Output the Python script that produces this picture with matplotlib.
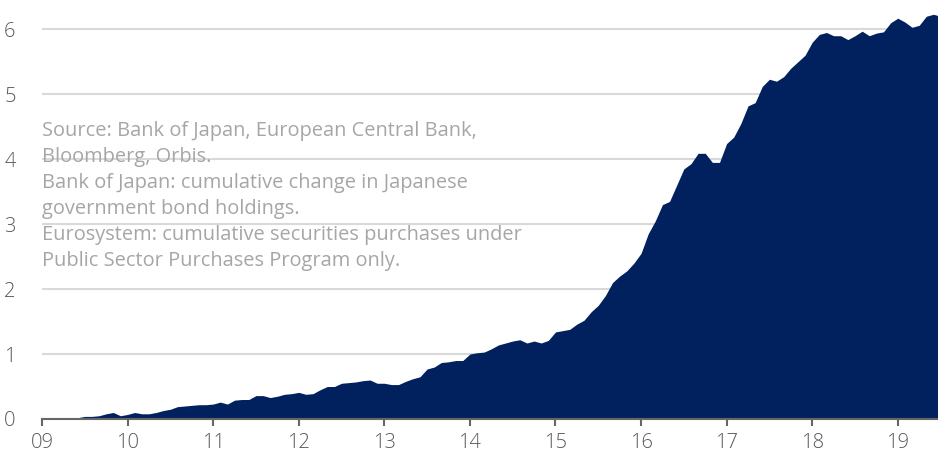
import matplotlib
matplotlib.use("Agg")
import matplotlib.pyplot as plt
import numpy as np

# monthly values, Jan 2009 onwards (trillion)
vals_2009 = [0, 0, 0, 0.01, 0.01, 0.02, 0.04, 0.04, 0.05, 0.08, 0.1, 0.05]
vals_2010 = [0.07, 0.1, 0.08, 0.08, 0.1, 0.13, 0.15, 0.19, 0.2, 0.21, 0.22, 0.22]
vals_2011 = [0.23, 0.26, 0.23, 0.29, 0.3, 0.3, 0.36, 0.36, 0.33, 0.35, 0.38, 0.39]
vals_2012 = [0.41, 0.38, 0.39, 0.45, 0.5, 0.5, 0.55, 0.56, 0.57, 0.59, 0.6, 0.55]
vals_2013 = [0.55, 0.53, 0.53, 0.58, 0.62, 0.65, 0.77, 0.8, 0.87, 0.88, 0.9, 0.9]
vals_2014 = [1.0, 1.02, 1.03, 1.08, 1.14, 1.17, 1.2, 1.22, 1.17, 1.2, 1.17, 1.21]
vals_2015 = [1.34, 1.36, 1.38, 1.46, 1.52, 1.65, 1.75, 1.9, 2.1, 2.2, 2.28, 2.4]
vals_2016 = [2.55, 2.85, 3.05, 3.3, 3.35, 3.6, 3.85, 3.93, 4.09, 4.09, 3.95, 3.95]
vals_2017 = [4.24, 4.34, 4.55, 4.82, 4.87, 5.12, 5.23, 5.2, 5.27, 5.4, 5.5, 5.6]
vals_2018 = [5.8, 5.92, 5.95, 5.9, 5.9, 5.84, 5.9, 5.97, 5.9, 5.94, 5.96, 6.1]
vals_2019 = [6.17, 6.11, 6.03, 6.06, 6.2, 6.23, 6.2]

values = np.array(vals_2009 + vals_2010 + vals_2011 + vals_2012 + vals_2013 + vals_2014
                  + vals_2015 + vals_2016 + vals_2017 + vals_2018 + vals_2019)
t = 2009 + np.arange(len(values)) / 12.0

xtick_years = list(range(2009, 2020))
xtick_labels = ["09", "10", "11", "12", "13", "14", "15", "16", "17", "18", "19"]
yticks = [0, 1, 2, 3, 4, 5, 6]

note_lines = [
    "Source: Bank of Japan, European Central Bank,",
    "Bloomberg, Orbis.",
    "Bank of Japan: cumulative change in Japanese",
    "government bond holdings.",
    "Eurosystem: cumulative securities purchases under",
    "Public Sector Purchases Program only.",
]

plt.rcParams['font.family'] = ['Open Sans', 'DejaVu Sans']
plt.rcParams['font.weight'] = 'light'

fig = plt.figure(figsize=(9.38, 4.57), dpi=100)
ax = fig.add_axes([42 / 938, 38 / 457, 1 - 42 / 938, 1 - 38 / 457])

ax.fill_between(t, values, 0, color='#01205e', linewidth=0, zorder=3)

ax.set_xlim(2009, 2019.47)
ax.set_ylim(0, 6.45)

ax.set_yticks(yticks)
ax.set_yticklabels([str(v) for v in yticks])
ax.set_xticks(xtick_years)
ax.set_xticklabels(xtick_labels)

ax.grid(axis='y', color='#d9d9d9', linewidth=1.5, zorder=0)
ax.tick_params(axis='y', length=0, pad=19, labelsize=14.5, labelcolor='#595959')
ax.tick_params(axis='x', length=5, width=1.5, color='#666666', pad=5,
               labelsize=14.5, labelcolor='#595959', direction='out')

for s in ['top', 'right', 'left']:
    ax.spines[s].set_visible(False)
ax.spines['bottom'].set_color('#666666')
ax.spines['bottom'].set_linewidth(1.5)
ax.spines['bottom'].set_zorder(4)

for i, line in enumerate(note_lines):
    fig.text(42 / 938, 1 - (131 + 26 * i) / 457, line, fontsize=14.4,
             fontweight='normal', color='#a6a6a6', ha='left', va='center')

fig.savefig("out.png", dpi=100)
